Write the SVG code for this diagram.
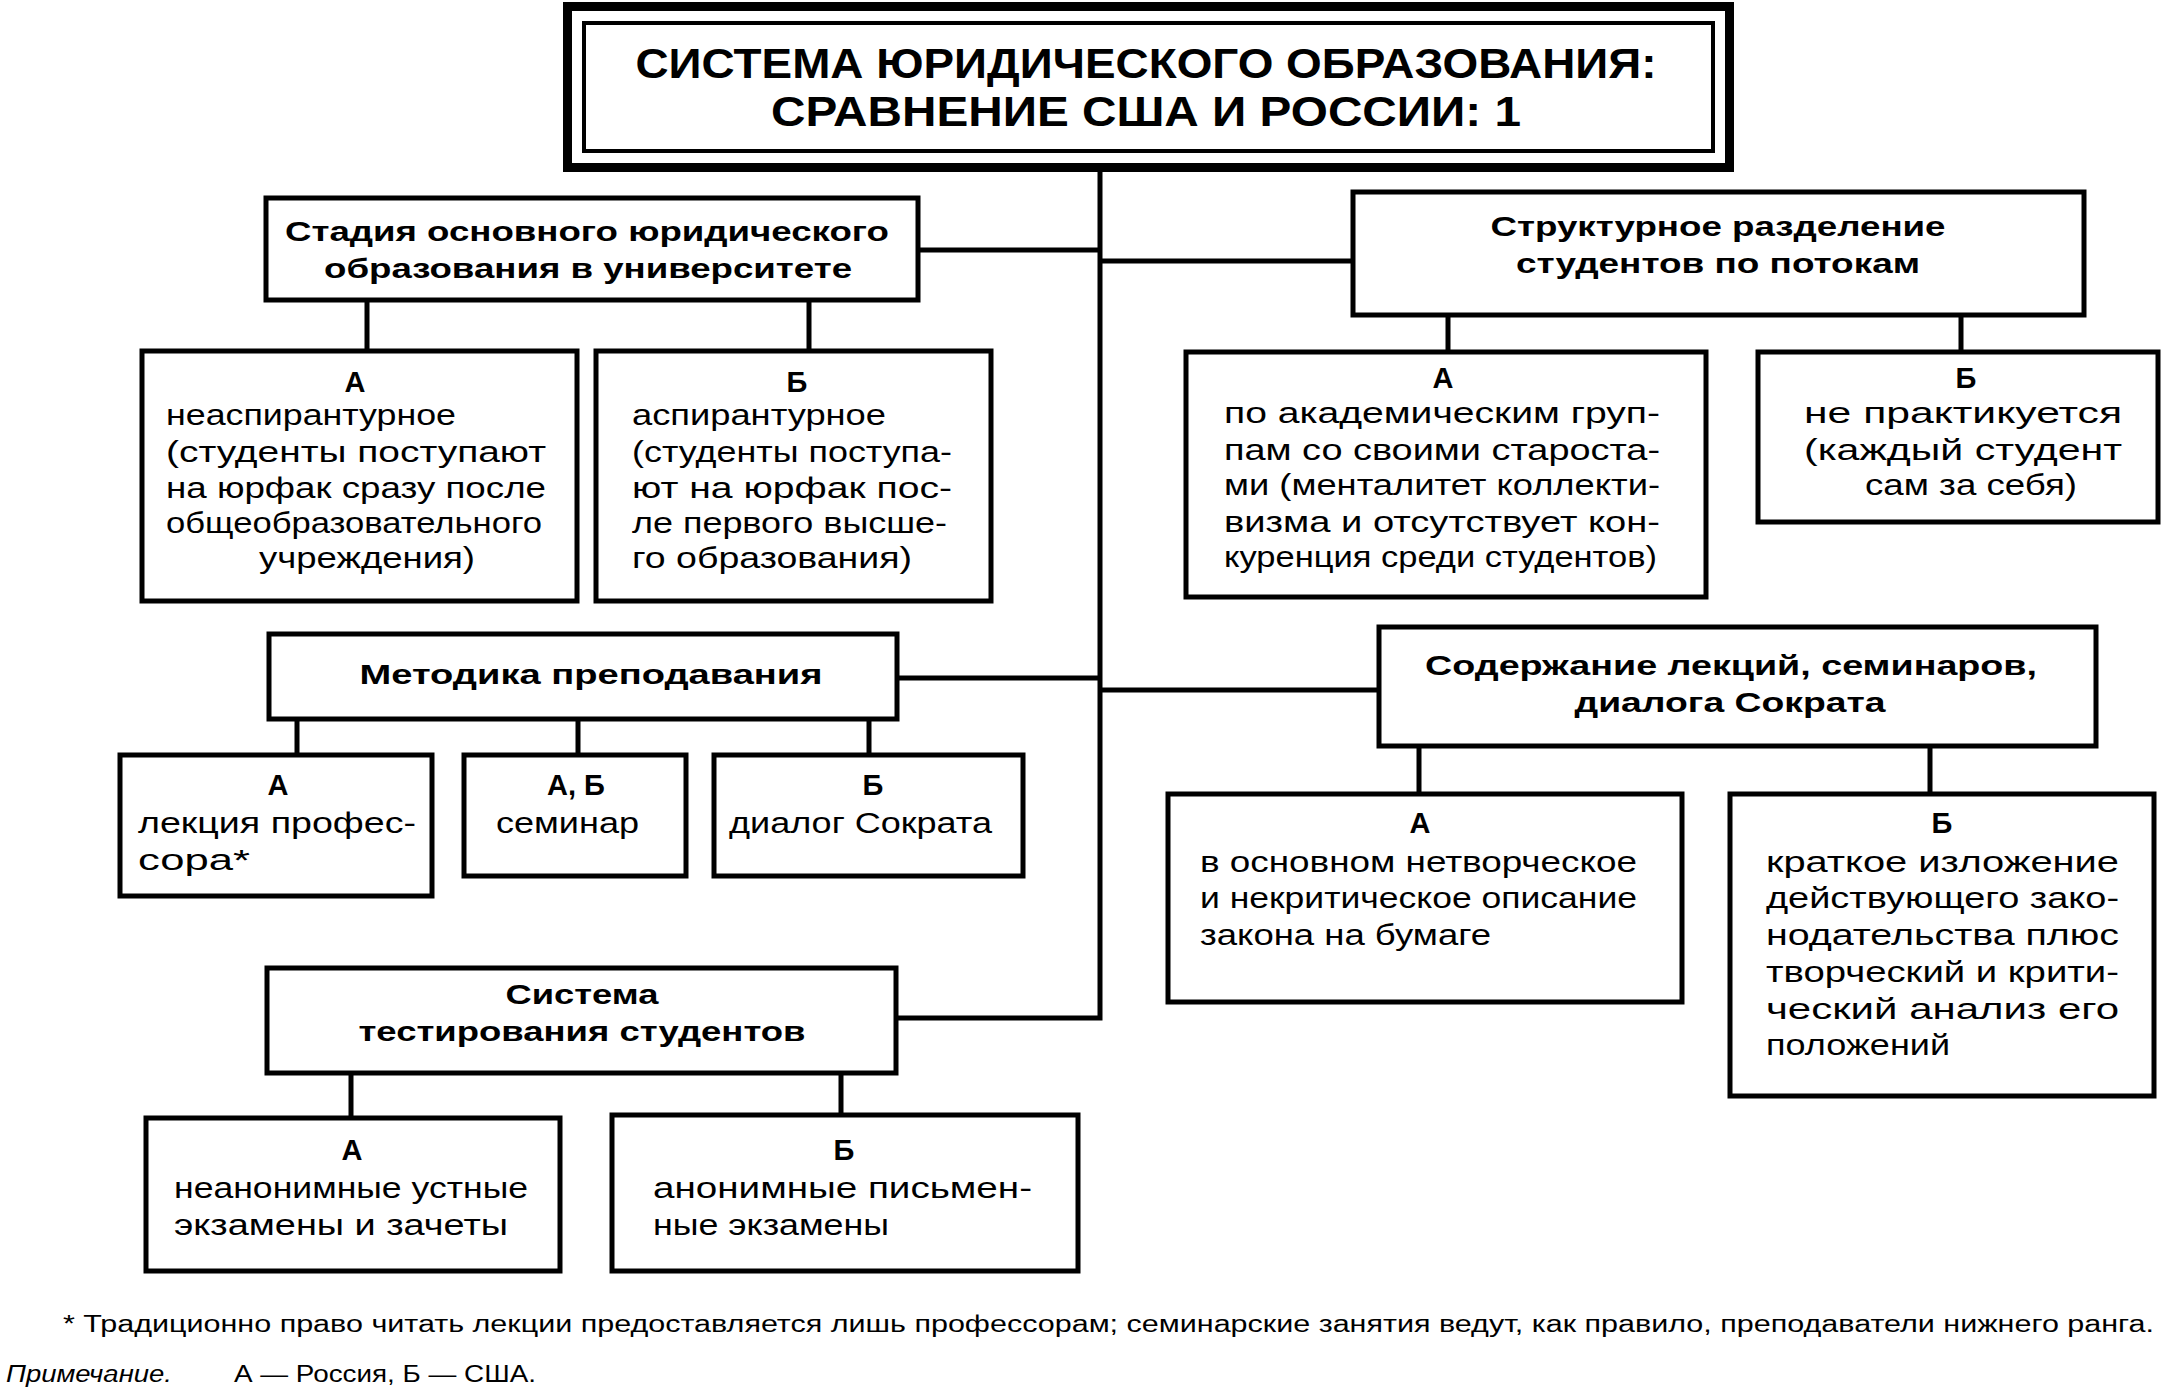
<svg xmlns="http://www.w3.org/2000/svg" width="2165" height="1389" viewBox="0 0 2165 1389">
<style>
.box{fill:#fff;stroke:#000;stroke-width:5}
.ln{fill:none;stroke:#000;stroke-width:5;stroke-linejoin:miter}
text{font-family:"Liberation Sans",Arial,sans-serif;fill:#000}
.ttl{font-size:42px;font-weight:bold;text-anchor:middle}
.h{font-size:28px;font-weight:bold;text-anchor:middle}
.lb{font-size:29px;font-weight:bold;text-anchor:middle}
.b{font-size:30px}
.fn{font-size:23px}
.it{font-style:italic}
</style>
<rect x="0" y="0" width="2165" height="1389" fill="#fff"/>
<g id="connectors">
<path class="ln" d="M1100 172 V1018 H898"/>
<path class="ln" d="M920 250 H1100"/>
<path class="ln" d="M1100 261 H1353"/>
<path class="ln" d="M899 678 H1100"/>
<path class="ln" d="M1100 690 H1379"/>
<path class="ln" d="M367 300 V351 M809 300 V351"/>
<path class="ln" d="M1448 315 V352 M1961 315 V352"/>
<path class="ln" d="M297 719 V755 M578 719 V755 M869 719 V755"/>
<path class="ln" d="M1419 746 V794 M1930 746 V794"/>
<path class="ln" d="M351 1073 V1118 M841 1073 V1115"/>
</g>
<g id="title">
<rect x="567.5" y="6.5" width="1162" height="161" fill="#fff" stroke="#000" stroke-width="9"/>
<rect x="584" y="23" width="1129" height="128" fill="none" stroke="#000" stroke-width="4"/>
<text class="ttl" x="1146" y="78" textLength="1021" lengthAdjust="spacingAndGlyphs">СИСТЕМА ЮРИДИЧЕСКОГО ОБРАЗОВАНИЯ:</text>
<text class="ttl" x="1146" y="126" textLength="750" lengthAdjust="spacingAndGlyphs">СРАВНЕНИЕ США И РОССИИ: 1</text>
</g>
<g id="stadia">
<rect class="box" x="266" y="198" width="652" height="102"/>
<text class="h" x="587" y="241" textLength="604" lengthAdjust="spacingAndGlyphs">Стадия основного юридического</text>
<text class="h" x="588" y="278" textLength="528" lengthAdjust="spacingAndGlyphs">образования в университете</text>
</g>
<g id="stadia-a">
<rect class="box" x="142" y="351" width="435" height="250"/>
<text class="lb" x="355" y="392">А</text>
<text class="b" x="166" y="425" textLength="290" lengthAdjust="spacingAndGlyphs">неаспирантурное</text>
<text class="b" x="166" y="462" textLength="380" lengthAdjust="spacingAndGlyphs">(студенты поступают</text>
<text class="b" x="166" y="498" textLength="380" lengthAdjust="spacingAndGlyphs">на юрфак сразу после</text>
<text class="b" x="166" y="533" textLength="376" lengthAdjust="spacingAndGlyphs">общеобразовательного</text>
<text class="b" x="259" y="568" textLength="216" lengthAdjust="spacingAndGlyphs">учреждения)</text>
</g>
<g id="stadia-b">
<rect class="box" x="596" y="351" width="395" height="250"/>
<text class="lb" x="797" y="392">Б</text>
<text class="b" x="632" y="425" textLength="254" lengthAdjust="spacingAndGlyphs">аспирантурное</text>
<text class="b" x="632" y="462" textLength="320" lengthAdjust="spacingAndGlyphs">(студенты поступа-</text>
<text class="b" x="632" y="498" textLength="320" lengthAdjust="spacingAndGlyphs">ют на юрфак  пос-</text>
<text class="b" x="632" y="533" textLength="315" lengthAdjust="spacingAndGlyphs">ле первого высше-</text>
<text class="b" x="632" y="568" textLength="280" lengthAdjust="spacingAndGlyphs">го образования)</text>
</g>
<g id="struct">
<rect class="box" x="1353" y="192" width="731" height="123"/>
<text class="h" x="1718" y="236" textLength="455" lengthAdjust="spacingAndGlyphs">Структурное разделение</text>
<text class="h" x="1718" y="273" textLength="404" lengthAdjust="spacingAndGlyphs">студентов по потокам</text>
</g>
<g id="struct-a">
<rect class="box" x="1186" y="352" width="520" height="245"/>
<text class="lb" x="1443" y="388">А</text>
<text class="b" x="1224" y="423" textLength="436" lengthAdjust="spacingAndGlyphs">по академическим груп-</text>
<text class="b" x="1224" y="460" textLength="436" lengthAdjust="spacingAndGlyphs">пам со своими староста-</text>
<text class="b" x="1224" y="495" textLength="436" lengthAdjust="spacingAndGlyphs">ми (менталитет коллекти-</text>
<text class="b" x="1224" y="532" textLength="436" lengthAdjust="spacingAndGlyphs">визма и отсутствует кон-</text>
<text class="b" x="1224" y="567" textLength="433" lengthAdjust="spacingAndGlyphs">куренция среди студентов)</text>
</g>
<g id="struct-b">
<rect class="box" x="1758" y="352" width="400" height="170"/>
<text class="lb" x="1966" y="388">Б</text>
<text class="b" x="1804" y="423" textLength="318" lengthAdjust="spacingAndGlyphs">не практикуется</text>
<text class="b" x="1804" y="460" textLength="318" lengthAdjust="spacingAndGlyphs">(каждый студент</text>
<text class="b" x="1865" y="495" textLength="212" lengthAdjust="spacingAndGlyphs">сам за себя)</text>
</g>
<g id="metodika">
<rect class="box" x="269" y="634" width="628" height="85"/>
<text class="h" x="591" y="684" textLength="463" lengthAdjust="spacingAndGlyphs">Методика  преподавания</text>
</g>
<g id="metodika-a">
<rect class="box" x="120" y="755" width="312" height="141"/>
<text class="lb" x="278" y="795">А</text>
<text class="b" x="138" y="833" textLength="278" lengthAdjust="spacingAndGlyphs">лекция профес-</text>
<text class="b" x="138" y="870" textLength="112" lengthAdjust="spacingAndGlyphs">сора*</text>
</g>
<g id="metodika-ab">
<rect class="box" x="464" y="755" width="222" height="121"/>
<text class="lb" x="576" y="795">А, Б</text>
<text class="b" x="496" y="833" textLength="143" lengthAdjust="spacingAndGlyphs">семинар</text>
</g>
<g id="metodika-b">
<rect class="box" x="714" y="755" width="309" height="121"/>
<text class="lb" x="873" y="795">Б</text>
<text class="b" x="729" y="833" textLength="263" lengthAdjust="spacingAndGlyphs">диалог Сократа</text>
</g>
<g id="soderzhanie">
<rect class="box" x="1379" y="627" width="717" height="119"/>
<text class="h" x="1731" y="675" textLength="612" lengthAdjust="spacingAndGlyphs">Содержание лекций, семинаров,</text>
<text class="h" x="1730" y="712" textLength="311" lengthAdjust="spacingAndGlyphs">диалога Сократа</text>
</g>
<g id="soderzhanie-a">
<rect class="box" x="1168" y="794" width="514" height="208"/>
<text class="lb" x="1420" y="833">А</text>
<text class="b" x="1200" y="872" textLength="437" lengthAdjust="spacingAndGlyphs">в основном нетворческое</text>
<text class="b" x="1200" y="908" textLength="437" lengthAdjust="spacingAndGlyphs">и некритическое описание</text>
<text class="b" x="1200" y="945" textLength="291" lengthAdjust="spacingAndGlyphs">закона на бумаге</text>
</g>
<g id="soderzhanie-b">
<rect class="box" x="1730" y="794" width="424" height="302"/>
<text class="lb" x="1942" y="833">Б</text>
<text class="b" x="1766" y="872" textLength="353" lengthAdjust="spacingAndGlyphs">краткое изложение</text>
<text class="b" x="1766" y="908" textLength="353" lengthAdjust="spacingAndGlyphs">действующего зако-</text>
<text class="b" x="1766" y="945" textLength="353" lengthAdjust="spacingAndGlyphs">нодательства плюс</text>
<text class="b" x="1766" y="982" textLength="353" lengthAdjust="spacingAndGlyphs">творческий и крити-</text>
<text class="b" x="1766" y="1019" textLength="353" lengthAdjust="spacingAndGlyphs">ческий анализ его</text>
<text class="b" x="1766" y="1055" textLength="184" lengthAdjust="spacingAndGlyphs">положений</text>
</g>
<g id="testirovanie">
<rect class="box" x="267" y="968" width="629" height="105"/>
<text class="h" x="582" y="1004" textLength="153" lengthAdjust="spacingAndGlyphs">Система</text>
<text class="h" x="582" y="1041" textLength="447" lengthAdjust="spacingAndGlyphs">тестирования студентов</text>
</g>
<g id="testirovanie-a">
<rect class="box" x="146" y="1118" width="414" height="153"/>
<text class="lb" x="352" y="1160">А</text>
<text class="b" x="174" y="1198" textLength="354" lengthAdjust="spacingAndGlyphs">неанонимные устные</text>
<text class="b" x="174" y="1235" textLength="334" lengthAdjust="spacingAndGlyphs">экзамены  и зачеты</text>
</g>
<g id="testirovanie-b">
<rect class="box" x="612" y="1115" width="466" height="156"/>
<text class="lb" x="844" y="1160">Б</text>
<text class="b" x="653" y="1198" textLength="379" lengthAdjust="spacingAndGlyphs">анонимные  письмен-</text>
<text class="b" x="653" y="1235" textLength="236" lengthAdjust="spacingAndGlyphs">ные экзамены</text>
</g>
<g id="notes">
<text class="fn" x="63" y="1332" textLength="2091" lengthAdjust="spacingAndGlyphs">* Традиционно право читать лекции предоставляется лишь профессорам; семинарские занятия ведут, как правило, преподаватели нижнего ранга.</text>
<text class="fn it" x="6" y="1382" textLength="166" lengthAdjust="spacingAndGlyphs">Примечание.</text>
<text class="fn" x="234" y="1382" textLength="302" lengthAdjust="spacingAndGlyphs">А — Россия, Б — США.</text>
</g>
</svg>
